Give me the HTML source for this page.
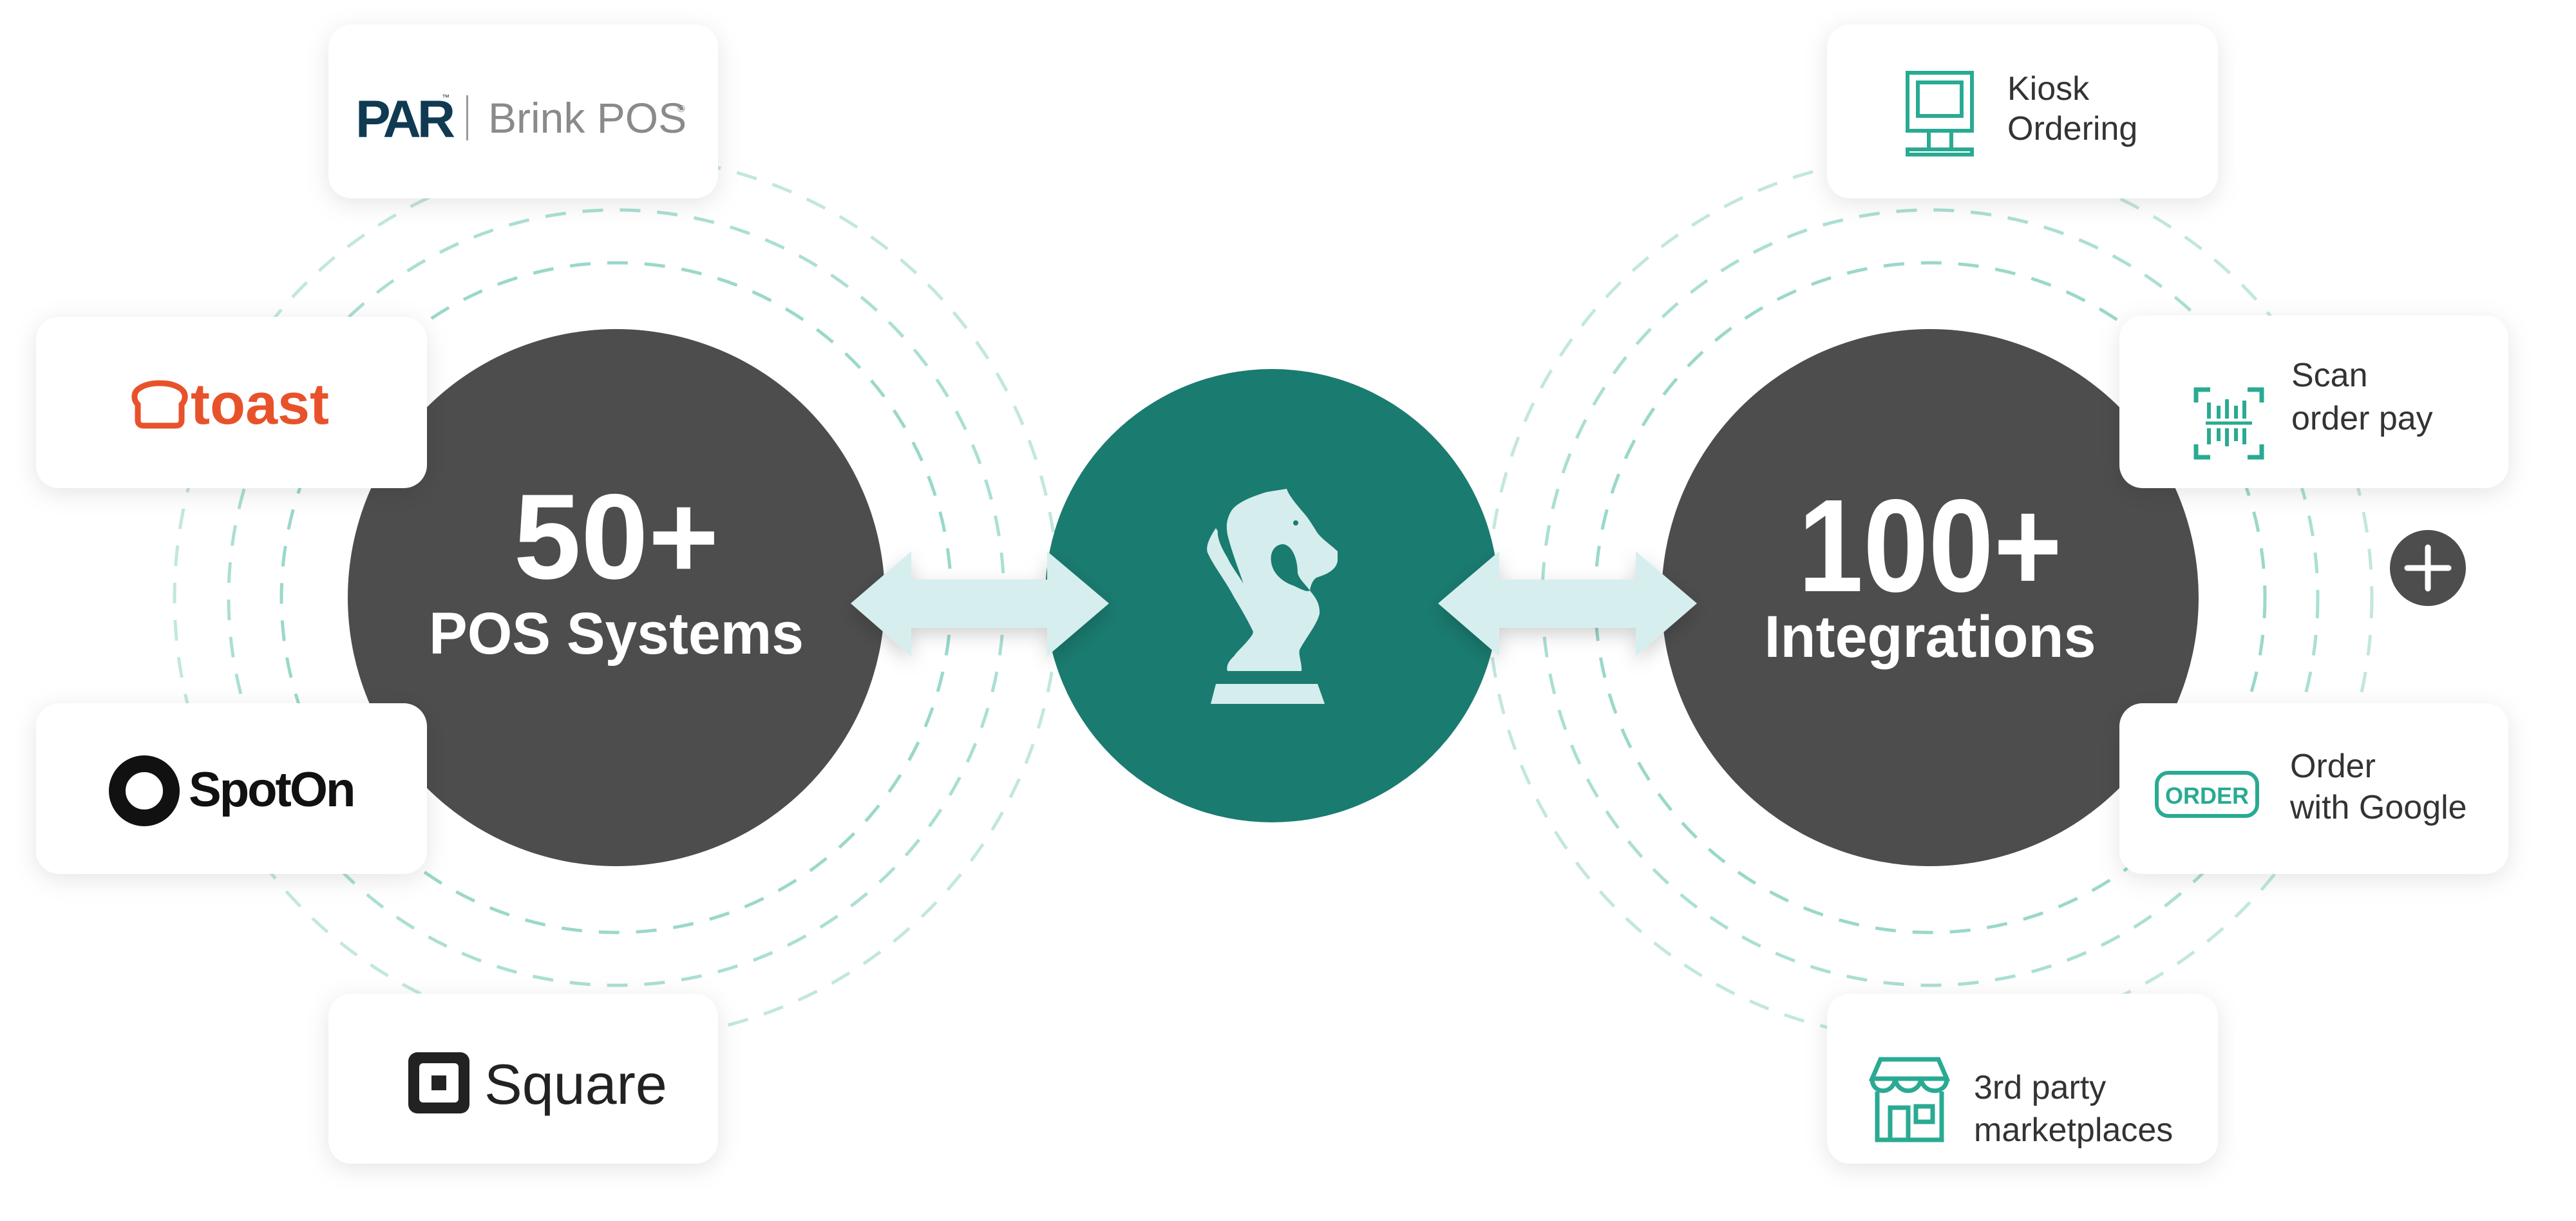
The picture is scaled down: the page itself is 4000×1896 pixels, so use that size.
<!DOCTYPE html>
<html><head><meta charset="utf-8"><style>
html,body{margin:0;padding:0;background:#fff;}
svg{display:block;}
text{font-family:"Liberation Sans",Arial,sans-serif;}
</style></head><body>
<svg width="4000" height="1896" viewBox="0 0 4000 1896" xmlns="http://www.w3.org/2000/svg">
<defs>
<filter id="sh" x="-20%" y="-30%" width="140%" height="160%">
<feDropShadow dx="0" dy="8" stdDeviation="18" flood-color="#000" flood-opacity="0.10"/>
</filter>
<filter id="ash" x="-20%" y="-50%" width="140%" height="200%">
<feDropShadow dx="0" dy="10" stdDeviation="14" flood-color="#000" flood-opacity="0.18"/>
</filter>
</defs>
<rect width="4000" height="1896" fill="#fff"/>

<!-- dashed rings -->
<g fill="none" stroke="#8fd4c4" stroke-width="5" stroke-dasharray="32 26">
<circle cx="957" cy="928" r="520" opacity="0.9"/>
<circle cx="957" cy="928" r="602" opacity="0.75"/>
<circle cx="957" cy="928" r="686" opacity="0.55"/>
<circle cx="2997" cy="928" r="520" opacity="0.9"/>
<circle cx="2997" cy="928" r="602" opacity="0.75"/>
<circle cx="2997" cy="928" r="686" opacity="0.55"/>
</g>

<!-- dark circles -->
<circle cx="957" cy="928" r="417" fill="#4d4d4d"/>
<circle cx="2997" cy="928" r="417" fill="#4d4d4d"/>
<text x="957" y="898" text-anchor="middle" font-size="188" font-weight="bold" fill="#fff">50+</text>
<text x="957" y="1015" text-anchor="middle" font-size="92" font-weight="bold" fill="#fff" textLength="582" lengthAdjust="spacingAndGlyphs">POS Systems</text>
<text x="2997" y="918" text-anchor="middle" font-size="205" font-weight="bold" fill="#fff" textLength="410" lengthAdjust="spacingAndGlyphs">100+</text>
<text x="2997" y="1020" text-anchor="middle" font-size="92" font-weight="bold" fill="#fff" textLength="515" lengthAdjust="spacingAndGlyphs">Integrations</text>

<!-- teal circle -->
<circle cx="1975" cy="925" r="352" fill="#1a7b70"/>
<!-- knight -->
<g fill="#d5eded">
<path d="M1998 759 L1967 764 C1940 772 1918 782 1911 795 C1904 808 1904 818 1906 830 C1912 855 1922 880 1932 910 C1945 945 1950 965 1945 985 C1935 1000 1922 1010 1916 1019 C1906 1028 1904 1036 1906 1042 L2021 1042 C2022 1030 2016 1018 2018 1009 C2028 990 2045 970 2049 953 C2050 935 2040 925 2034 917 C2036 905 2040 900 2044 897 C2060 892 2075 885 2077 871 L2077 856 C2065 845 2050 835 2044 825 C2035 810 2028 800 2023 795 C2012 782 2004 772 2000 764 Z"/>
<path d="M1888 820 C1878 835 1872 848 1875 858 C1885 880 1905 905 1916 927 C1930 950 1940 968 1947 983 C1950 960 1945 935 1937 917 C1925 895 1912 880 1906 866 C1896 850 1890 835 1891 825 Z"/>
<path d="M1993 845 C1978 845 1970 860 1975 878 C1980 895 1995 905 2010 910 C2020 915 2030 920 2034 917 C2025 905 2018 900 2015 890 C2015 870 2008 848 1993 845 Z" fill="#1a7b70"/>
<circle cx="2012" cy="812" r="4" fill="#1a7b70"/>
<path d="M1888 1062 L2046 1062 L2057 1093 L1880 1093 Z"/>
</g>

<!-- arrows -->
<g fill="#d6eeee" filter="url(#ash)">
<path d="M1321 937 L1415 856 L1415 900 L1626 900 L1626 856 L1722 937 L1626 1019 L1626 975 L1415 975 L1415 1019 Z"/>
<path d="M2233 937 L2328 856 L2328 900 L2540 900 L2540 856 L2635 937 L2540 1019 L2540 975 L2328 975 L2328 1019 Z"/>
</g>

<!-- plus -->
<circle cx="3770" cy="882" r="59" fill="#4d4d4d"/>
<path d="M3770 850 V914 M3738 882 H3802" stroke="#fff" stroke-width="9" stroke-linecap="round"/>

<!-- cards -->
<g fill="#fff" filter="url(#sh)">
<rect x="510" y="38" width="605" height="270" rx="36"/>
<rect x="56" y="492" width="607" height="266" rx="36"/>
<rect x="56" y="1092" width="607" height="265" rx="36"/>
<rect x="510" y="1543" width="605" height="264" rx="36"/>
<rect x="2837" y="38" width="607" height="270" rx="36"/>
<rect x="3291" y="490" width="604" height="268" rx="36"/>
<rect x="3291" y="1092" width="604" height="265" rx="36"/>
<rect x="2837" y="1543" width="607" height="264" rx="36"/>
</g>

<!-- PAR Brink -->
<text x="552" y="213" font-size="82" font-weight="bold" fill="#0f3a52" letter-spacing="-6">PAR</text>
<text x="686" y="155" font-size="12" fill="#0f3a52">™</text>
<rect x="724" y="148" width="3" height="70" fill="#999"/>
<text x="758" y="206" font-size="66" fill="#8a8a8a">Brink POS</text>
<text x="1052" y="174" font-size="16" fill="#8a8a8a">®</text>

<!-- toast -->
<path d="M214 652 L214 628 C207 621 207 610 215 604 C224 597 236 595 248 595 C260 595 272 597 281 604 C289 610 289 621 282 628 L282 652 C282 658 279 661 273 661 L223 661 C217 661 214 658 214 652 Z" fill="none" stroke="#e8522a" stroke-width="9"/>
<text x="296" y="658" font-size="90" font-weight="bold" fill="#e8522a">toast</text>

<!-- SpotOn -->
<circle cx="224" cy="1228" r="42" fill="none" stroke="#111" stroke-width="26"/>
<text x="293" y="1252" font-size="76" font-weight="bold" fill="#111" letter-spacing="-3">SpotOn</text>

<!-- Square -->
<rect x="634" y="1634" width="95" height="95" rx="14" fill="#222"/>
<rect x="651" y="1651" width="61" height="61" rx="6" fill="#fff"/>
<rect x="670" y="1670" width="23" height="23" fill="#222"/>
<text x="752" y="1714" font-size="88" fill="#222">Square</text>

<!-- Kiosk -->
<g fill="none" stroke="#2aaa92" stroke-width="6">
<rect x="2962" y="113" width="100" height="90"/>
<rect x="2978" y="128" width="68" height="52"/>
<path d="M2995 203 V232 M3030 203 V232 M2962 232 H3062 V240 H2962 Z"/>
</g>
<text x="3117" y="155" font-size="52" fill="#333">Kiosk</text>
<text x="3117" y="217" font-size="52" fill="#333">Ordering</text>

<!-- Scan -->
<g fill="none" stroke="#2aaa92" stroke-width="7">
<path d="M3410 625 V605 H3432 M3490 605 H3512 V625 M3512 690 V710 H3490 M3432 710 H3410 V690"/>
<path d="M3425 657 H3497" stroke-width="5"/>
<path d="M3430 625 V650 M3445 630 V650 M3458 620 V650 M3472 630 V650 M3485 622 V650 M3430 665 V690 M3445 665 V685 M3458 665 V693 M3472 665 V685 M3485 665 V690" stroke-width="6"/>
</g>
<text x="3558" y="600" font-size="52" fill="#333">Scan</text>
<text x="3558" y="667" font-size="52" fill="#333">order pay</text>

<!-- Order -->
<rect x="3349" y="1200" width="156" height="67" rx="18" fill="none" stroke="#2aaa92" stroke-width="6"/>
<text x="3427" y="1248" text-anchor="middle" font-size="36" font-weight="bold" fill="#2aaa92">ORDER</text>
<text x="3556" y="1207" font-size="52" fill="#333">Order</text>
<text x="3556" y="1271" font-size="52" fill="#333">with Google</text>

<!-- 3rd party -->
<g fill="none" stroke="#2aaa92" stroke-width="7">
<path d="M2907 1675 L2920 1645 H3010 L3023 1675 Z"/>
<path d="M2907 1675 C2907 1700 2940 1700 2943 1675 C2946 1700 2980 1700 2983 1675 C2986 1700 3023 1700 3023 1675"/>
<path d="M2915 1695 V1770 H3015 V1695"/>
<rect x="2935" y="1720" width="28" height="50"/>
<rect x="2975" y="1718" width="26" height="24"/>
</g>
<text x="3065" y="1706" font-size="52" fill="#333">3rd party</text>
<text x="3065" y="1772" font-size="52" fill="#333">marketplaces</text>
</svg>
</body></html>
